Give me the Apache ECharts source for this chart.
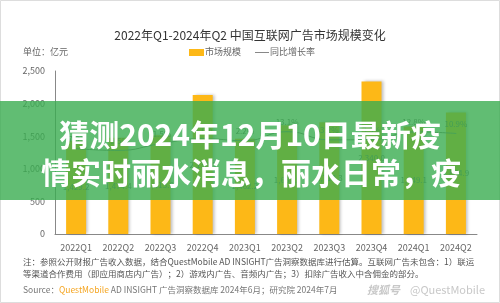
<!DOCTYPE html>
<html>
<head>
<meta charset="utf-8">
<script src="https://cdn.jsdelivr.net/npm/echarts@6/dist/echarts.min.js"></script>
<style>
html,body{margin:0;padding:0;background:#fff;}
#c{width:500px;height:303px;}
</style>
</head>
<body>
<div id="c"></div>
<script>
var categories = ['2022Q1','2022Q2','2022Q3','2022Q4','2023Q1','2023Q2','2023Q3','2023Q4','2024Q1','2024Q2'];
var marketSize = [1429.2, 1474.4, 1513.0, 2130.0, 1462.2, 1667.5, 1713.3, 2340.0, 1649.1, 1864.9];
var growthRate = [-7.3, -9.5, -1.5, 4.7, 2.2, 13.1, 3.2, 3.5, 12.8, 10.9];
var yTicks = [0, 500, 1000, 1500, 2000, 2500];

var FONT = '"Noto Sans CJK SC", "Noto Sans", sans-serif';
var chart = echarts.init(document.getElementById('c'), null, {renderer:'canvas'});
function fmt(v){ return v.toLocaleString('en-US',{minimumFractionDigits:1, maximumFractionDigits:1}); }

var option = {
  backgroundColor: '#ffffff',
  animation: false,
  textStyle: {fontFamily: FONT},
  title: {
    text: '2022年Q1-2024年Q2 中国互联网广告市场规模变化',
    left: 'center', top: 24,
    textStyle: {fontSize: 12, fontWeight: 'normal', color: '#333', fontFamily: FONT}
  },
  grid: {left: 55, right: 23, top: 71, bottom: 69},
  xAxis: {
    type: 'category', data: categories,
    axisLine: {lineStyle: {color: '#888'}},
    axisTick: {show: false},
    axisLabel: {fontSize: 9, color: '#666', margin: 9, fontFamily: FONT}
  },
  yAxis: [{
    type: 'value', min: 0, max: yTicks[yTicks.length-1], interval: 500,
    axisLine: {show: true, lineStyle: {color: '#888'}},
    axisTick: {show: false},
    splitLine: {show: false},
    axisLabel: {fontSize: 9, color: '#666', margin: 10, fontFamily: FONT,
      formatter: function(v){ return v.toLocaleString('en-US'); }}
  },{
    type: 'value', min: -110, max: 86, show: false, splitLine: {show:false}
  }],
  series: [{
    name: '市场规模', type: 'bar', data: marketSize, barWidth: 20,
    itemStyle: {color: '#FDB817', shadowColor: 'rgba(0,0,0,0.25)', shadowBlur: 3, shadowOffsetX: 2},
    label: {show: true, position: 'inside', fontSize: 8, color: '#666', fontFamily: FONT,
      formatter: function(p){ return fmt(p.value); }}
  },{
    name: '同比增长率', type: 'line', yAxisIndex: 1, data: growthRate, smooth: true,
    symbol: 'circle', symbolSize: 1,
    lineStyle: {color: '#777', width: 1},
    itemStyle: {color: '#777'},
    label: {show: true, position: 'top', fontSize: 8, color: '#666', fontFamily: FONT,
      formatter: function(p){ return p.value.toFixed(1) + '%'; }}
  }],
  graphic: [
    {type:'rect', shape:{x:0.5,y:0.5,width:499,height:302}, style:{fill:'none', stroke:'#ddd', lineWidth:1}, z:1},
    {type:'text', left: 23, top: 47, style:{text:'单位：亿元', fontSize: 9, fill:'#666', fontFamily: FONT}},
    {type:'rect', shape:{x:189,y:49,width:15,height:7}, style:{fill:'#FDB817'}},
    {type:'text', left: 205, top: 47, style:{text:'市场规模', fontSize: 9, fill:'#666', fontFamily: FONT}},
    {type:'line', shape:{x1:255,y1:52.5,x2:269,y2:52.5}, style:{stroke:'#888', lineWidth:1}},
    {type:'text', left: 270, top: 47, style:{text:'同比增长率', fontSize: 9, fill:'#666', fontFamily: FONT}},
    {type:'text', left: 23, top: 258, style:{text:'注：参照公开财报广告收入数据，结合QuestMobile AD INSIGHT广告洞察数据库进行估算。互联网广告未包含：1）联运', fontSize: 8.5, fill:'#555', fontFamily: FONT}},
    {type:'text', left: 23, top: 270, style:{text:'等渠道合作费用（即应用商店内广告）；2）游戏内广告、音频内广告；3）扣除广告收入中含佣金的部分。', fontSize: 8.5, fill:'#555', fontFamily: FONT}},
    {type:'text', left: 23, top: 286, style:{rich:{a:{fontSize:8.5, fill:'#777', fontFamily:FONT}, b:{fontSize:8.5, fill:'#F5A623', fontFamily:FONT}}, text:'{a|Source：}{b|QuestMobile}{a| AD INSIGHT 广告洞察数据库 2024年6月；研究院 2024年7月}'}},
    {type:'text', left: 367, top: 284, style:{text:'搜狐号', fontSize: 11, fill:'#c8c8c8', fontStyle:'italic', fontWeight:'bold', fontFamily: FONT}},
    {type:'text', left: 410, top: 284, style:{text:'@QuestMobile', fontSize: 11, fill:'#c8c8c8', fontFamily: FONT}},
    {type:'rect', shape:{x:0,y:101,width:500,height:99}, style:{fill:'rgba(58,172,80,0.8)'}, z:100},
    {type:'text', x: 250, y: 135, z:101, style:{text:'猜测2024年12月10日最新疫', fontSize: 30, fontWeight:'bold', fill:'#fff', align:'center', verticalAlign:'middle', fontFamily: FONT}},
    {type:'text', x: 251, y: 173, z:101, style:{text:'情实时丽水消息，丽水日常，疫', fontSize: 30, fontWeight:'bold', fill:'#fff', align:'center', verticalAlign:'middle', fontFamily: FONT}}
  ]
};
chart.setOption(option);
</script>
</body>
</html>
